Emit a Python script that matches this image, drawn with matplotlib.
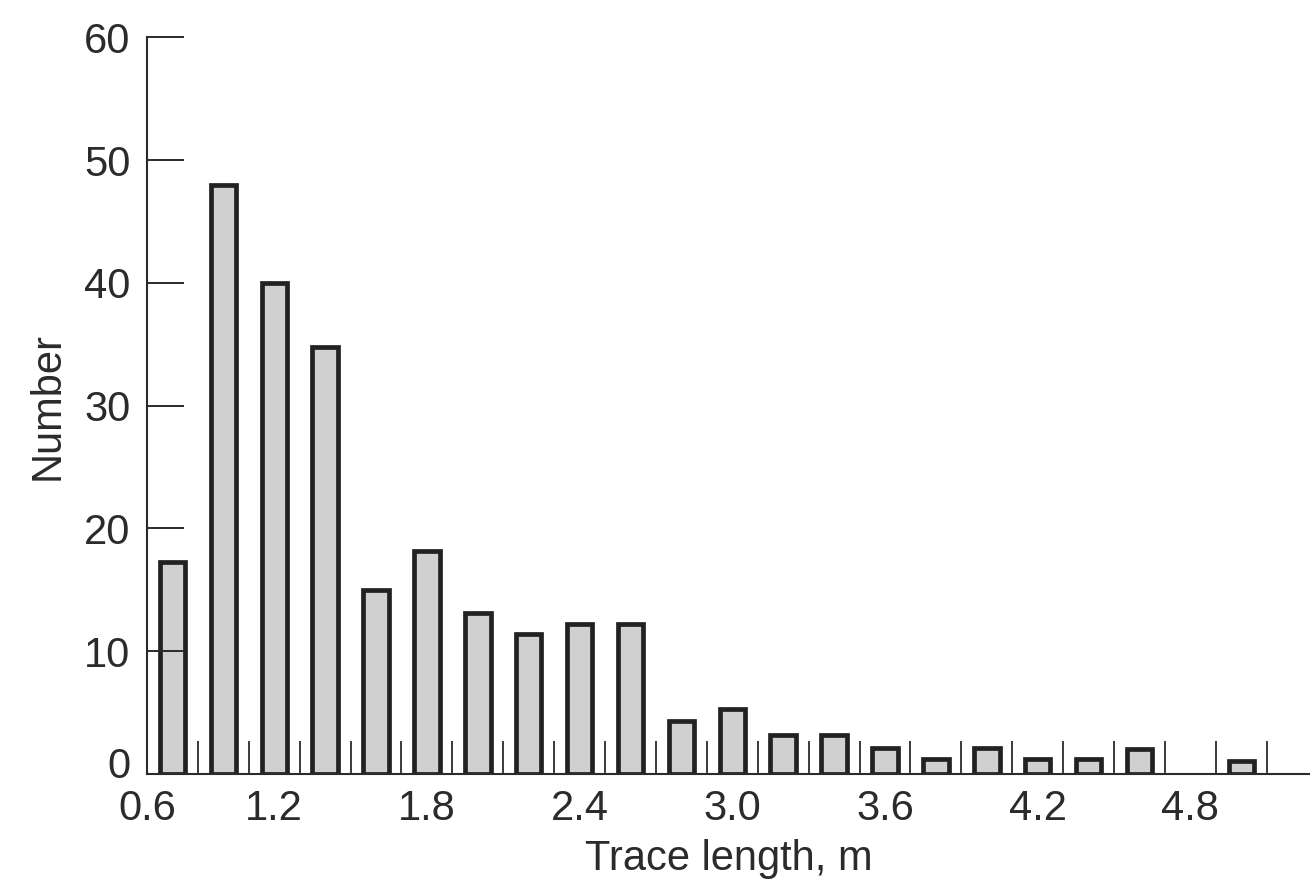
import matplotlib.pyplot as plt
import matplotlib.transforms as mtransforms

plt.rcParams['font.family'] = ['Liberation Sans', 'DejaVu Sans']

# bar centres (m) and counts
trace_length = [0.8, 1.0, 1.2, 1.4, 1.6, 1.8, 2.0, 2.2, 2.4, 2.6, 2.8,
                3.0, 3.2, 3.4, 3.6, 3.8, 4.0, 4.2, 4.4, 4.6, 4.8, 5.0]
counts = [17.3, 48, 40, 34.8, 15, 18.2, 13.1, 11.4, 12.2, 12.2, 4.3,
          5.3, 3.2, 3.2, 2.1, 1.2, 2.1, 1.2, 1.2, 2.0, 0, 1.1]
bin_edges = [0.9, 1.1, 1.3, 1.5, 1.7, 1.9, 2.1, 2.3, 2.5, 2.7, 2.9,
             3.1, 3.3, 3.5, 3.7, 3.9, 4.1, 4.3, 4.5, 4.7, 4.9, 5.1]
tick_pos = [0.7, 1.2, 1.8, 2.4, 3.0, 3.6, 4.2, 4.8]
tick_labels = ["0.6", "1.2", "1.8", "2.4", "3.0", "3.6", "4.2", "4.8"]
y_ticks = [0, 10, 20, 30, 40, 50, 60]

ink = "#2b2b2b"

fig = plt.figure(figsize=(13.1, 8.86), dpi=100)
ax = fig.add_axes([0.1122, 0.1264, 0.8878, 0.8316])

# empty bins get no bar (no outline either)
xs = [x for x, c in zip(trace_length, counts) if c > 0]
hs = [c for c in counts if c > 0]
ax.bar(xs, hs, width=0.1, color="#d0d0d0",
       edgecolor="#222222", linewidth=3.4)

ax.set_xlim(0.7, 5.27)
ax.set_ylim(0, 60)

for s in ["top", "right"]:
    ax.spines[s].set_visible(False)
for s in ["left", "bottom"]:
    ax.spines[s].set_linewidth(1.5)
    ax.spines[s].set_color(ink)

ax.set_xticks(tick_pos)
ax.set_xticklabels(tick_labels)
ax.set_xticks(bin_edges, minor=True)
ax.tick_params(axis="x", which="major", length=0, pad=11,
               labelsize=30, labelcolor=ink)
ax.tick_params(axis="x", which="minor", direction="in", length=24,
               width=1.3, color=ink)

ax.set_yticks(y_ticks)
ax.tick_params(axis="y", direction="in", length=26.5, width=1.4,
               color=ink, pad=12, labelsize=30, labelcolor=ink)

# the "0" sits a little above the x axis in the original
zero_lab = ax.get_yticklabels()[0]
shift = mtransforms.ScaledTranslation(0, 8 / 72, fig.dpi_scale_trans)
zero_lab.set_transform(zero_lab.get_transform() + shift)

ax.set_xlabel("Trace length, m", fontsize=30, color=ink, labelpad=7)
ax.set_ylabel("Number", fontsize=30, color=ink, labelpad=12)

fig.savefig("out.png", dpi=100)
